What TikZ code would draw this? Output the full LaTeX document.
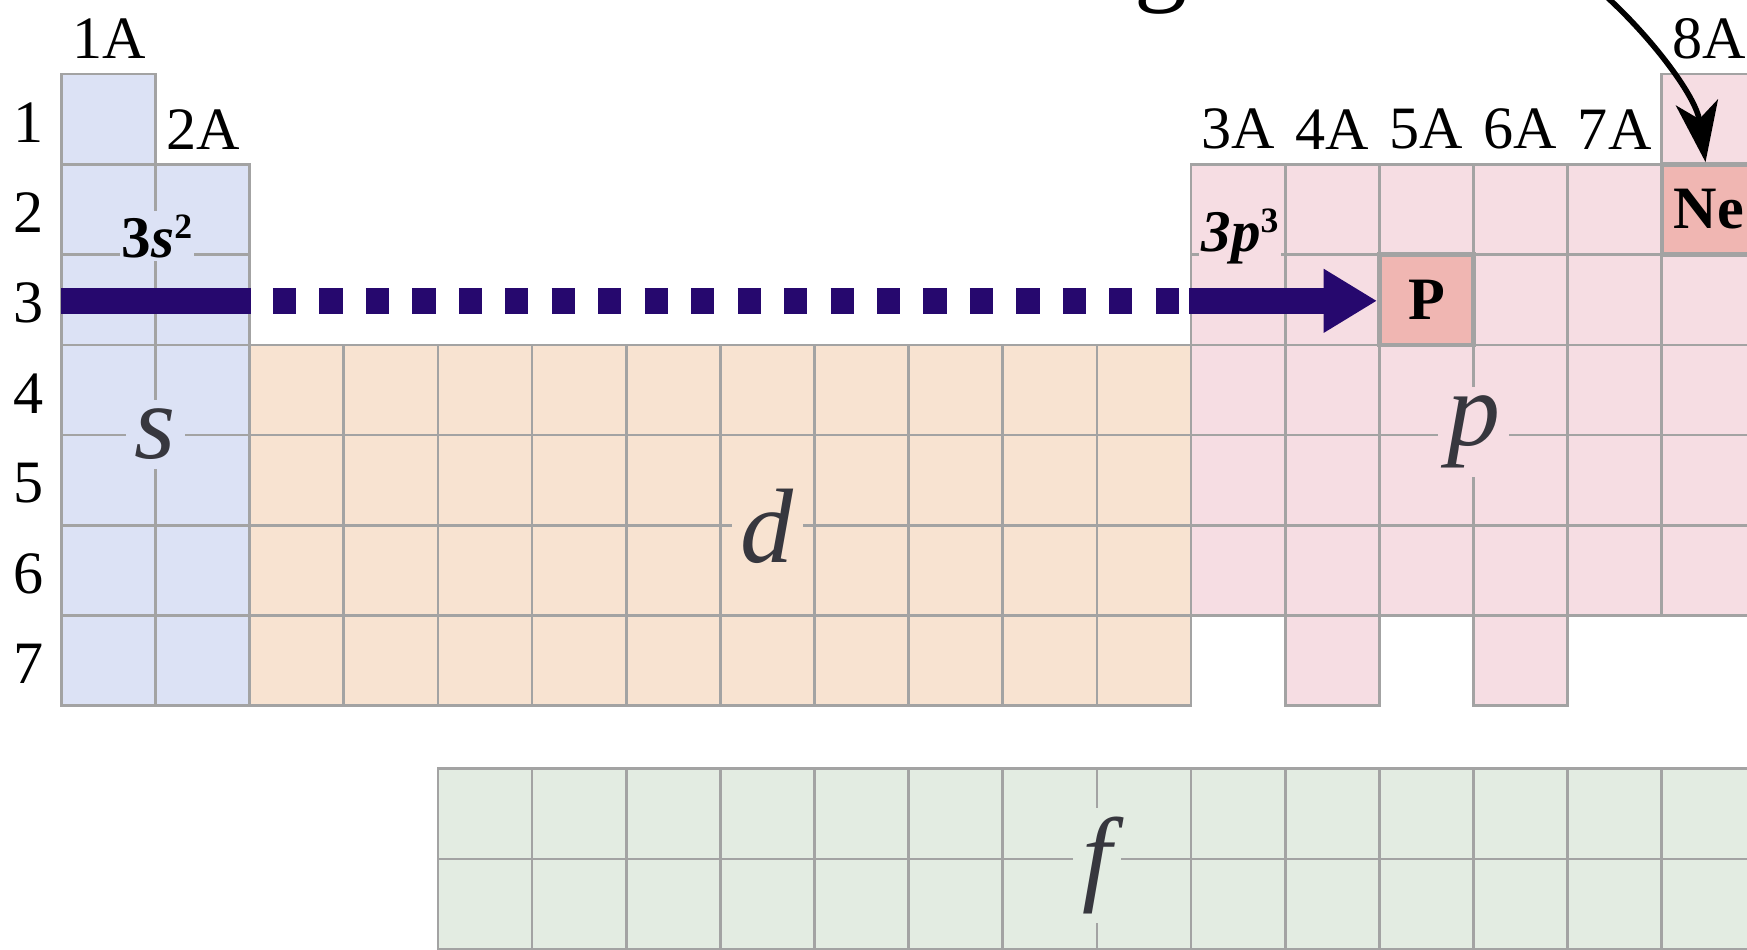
\documentclass[tikz,border=0pt]{standalone}
\usepackage{fontspec}
\setmainfont{Liberation Serif}
\usetikzlibrary{arrows.meta}
\definecolor{sblue}{RGB}{220,226,245}
\definecolor{dorange}{RGB}{248,227,209}
\definecolor{ppink}{RGB}{246,221,227}
\definecolor{fgreen}{RGB}{227,236,226}
\definecolor{hipink}{RGB}{240,182,178}
\definecolor{gridgray}{RGB}{163,163,163}
\definecolor{barnavy}{RGB}{38,8,110}
\definecolor{lettergray}{RGB}{55,55,62}
\newcommand\supnum[1]{\raisebox{17pt}{\fontsize{32}{32}\selectfont #1}}
\begin{document}
\begin{tikzpicture}[x=1pt,y=-1pt,
  gridline/.style={draw=gridgray, line width=2.4pt},
  grouplbl/.style={font=\fontsize{54}{54}\selectfont, inner sep=0pt, text=black},
  periodlbl/.style={font=\fontsize{54}{54}\selectfont, inner sep=0pt},
  blocklbl/.style={font=\fontsize{95}{95}\selectfont\itshape, text=lettergray, inner sep=8pt},
  conflbl/.style={font=\fontsize{53}{53}\selectfont\bfseries, inner xsep=2pt, inner ysep=3pt},
  hicell/.style={draw=gridgray, line width=4pt, fill=hipink, minimum width=84.5pt, minimum height=81pt, inner sep=0pt, font=\fontsize{54}{54}\selectfont\bfseries},
  bar/.style={draw=barnavy, line width=23pt},
]
\useasboundingbox (0,0) rectangle (1568,852);
\clip (0,0) rectangle (1568,852);
\fill[white] (0,0) rectangle (1568,852);
% block fills
\foreach \c/\ra/\rb/\cc in {0/1/7/sblue,1/2/7/sblue,2/4/7/dorange,3/4/7/dorange,4/4/7/dorange,5/4/7/dorange,6/4/7/dorange,7/4/7/dorange,8/4/7/dorange,9/4/7/dorange,10/4/7/dorange,11/4/7/dorange,12/2/6/ppink,13/2/7/ppink,14/2/6/ppink,15/2/7/ppink,16/2/6/ppink,17/1/6/ppink}
  {\fill[\cc] ({55+84.5*\c},{66.5+81*(\ra-1)}) rectangle ({55+84.5*(\c+1)},{66.5+81*\rb});}
\fill[fgreen] ({55+84.5*4},690) rectangle ({55+84.5*18},870);
% grid lines
\foreach \c/\ra/\rb in {0/1/7,1/2/7,2/4/7,3/4/7,4/4/7,5/4/7,6/4/7,7/4/7,8/4/7,9/4/7,10/4/7,11/4/7,12/2/6,13/2/7,14/2/6,15/2/7,16/2/6,17/1/6}
  {\foreach \r in {\ra,...,\rb}
    {\draw[gridline] ({55+84.5*\c},{66.5+81*(\r-1)}) rectangle ++(84.5,81);}}
\foreach \c in {4,...,17}
  {\foreach \r in {0,1}
    {\draw[gridline] ({55+84.5*\c},{690+81*\r}) rectangle ++(84.5,81);}}
% block letters
\node[blocklbl, fill=sblue] (slbl) at (139.5,390) {s};
\node[blocklbl, fill=dorange] (dlbl) at (688.75,472) {d};
\node[blocklbl, fill=ppink] (plbl) at (1322.5,388) {p};
\node[blocklbl, fill=fgreen] (flbl) at (984.5,777) {f};
% configuration labels
\node[conflbl, fill=sblue] (s2) at (141,212) {3\textit{s}\supnum{2}};
\node[conflbl, fill=ppink] (p3) at (1113,212) {\textit{3p}\supnum{3}};
% period numbers
\foreach \p in {1,...,7}
  {\node[periodlbl] (per\p) at (26,{66.5+81*(\p-0.5)+3}) {\p};}
% group labels
\node[grouplbl] (grp1A) at (97.75,35) {1A};
\node[grouplbl] (grp2A) at (182.25,116) {2A};
\foreach \g [count=\i from 12] in {3A,4A,5A,6A,7A}
  {\node[grouplbl] (grp\g) at ({55+84.5*(\i+0.5)},116) {\g};}
\node[grouplbl] (grp8A) at (1533.75,35) {8A};
% highlighted elements
\node[hicell] (P) at ({55+84.5*14.5},{66.5+81*2.5}) {P};
\node[hicell] (Ne) at ({55+84.5*17.5},{66.5+81*1.5}) {Ne};
% navy bar
\coordinate (barS) at (55,270);
\coordinate (barE) at (225,270);
\draw[bar] (barS) -- (barE);
\coordinate (dashS) at (245,270);
\coordinate (dashE) at (1058,270);
\draw[bar, dash pattern=on 20.8pt off 20.9pt] (dashS) -- (dashE);
\coordinate (arrS) at (1067,270);
\draw[bar, -{Triangle[length=48pt,width=54pt]}] (arrS) -- (P.west |- arrS);
% curved arrow from cut-off title
\node[font=\fontsize{95}{95}\selectfont, anchor=base, inner sep=0pt] (gtitle) at (1042,-8) {g};
\coordinate (curveS) at (1434,-10);
\draw[line width=5pt, -{Stealth[length=54pt,width=38pt,inset=15pt]}] (curveS) .. controls (1478,28) and (1522,85) .. ([xshift=-3pt]Ne.north);
\end{tikzpicture}
\end{document}
